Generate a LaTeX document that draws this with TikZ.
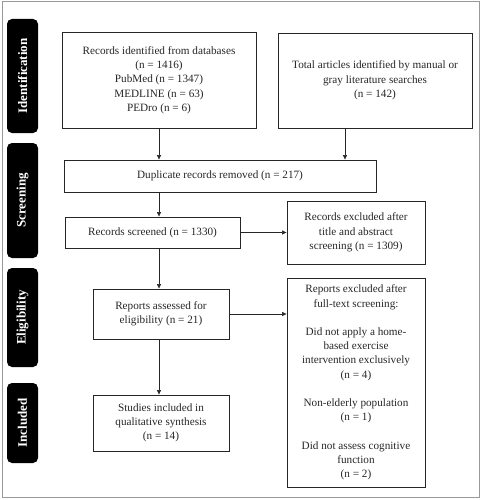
\documentclass[tikz,border=0pt]{standalone}
\usepackage{fontspec}
\setmainfont{Liberation Serif}
\usetikzlibrary{arrows.meta,calc}
\begin{document}
\begin{tikzpicture}[x=1pt,y=-1pt,
  box/.style={draw=black!85,line width=0.9pt,align=center,inner sep=2pt,
    font=\fontsize{11.2}{14.3}\selectfont,text=black!85},
  phase/.style={fill=black,rounded corners=5pt,minimum width=31pt,text=white,
    font=\fontsize{13}{14}\selectfont\bfseries,rotate=90,inner sep=0pt},
  arr/.style={draw=black!85,line width=0.6pt,-{Triangle[length=4.5pt,width=4pt]}}]
\useasboundingbox (0,0) rectangle (483,500);
\draw[black!40,line width=1pt] (2,2) rectangle (479.5,497.5);
% phase labels
\node[phase,minimum width=114pt,minimum height=31pt] (pid) at (22.5,76) {Identification};
\node[phase,minimum width=115pt,minimum height=31pt] (psc) at (22.5,200.5) {Screening};
\node[phase,minimum width=99pt,minimum height=31pt] (pel) at (22.5,317.5) {Eligibility};
\node[phase,minimum width=80pt,minimum height=31pt] (pin) at (22.5,423) {Included};
% boxes
\node[box,minimum width=194pt,minimum height=96pt] (A) at (159,80) {Records identified from databases\\(n = 1416)\\PubMed (n = 1347)\\MEDLINE (n = 63)\\PEDro (n = 6)};
\node[box,minimum width=194pt,minimum height=95pt] (B) at (375,80.5) {Total articles identified by manual or\\gray literature searches\\(n = 142)};
\node[box,minimum width=312pt,minimum height=32pt] (dup) at (220,176) {Duplicate records removed (n = 217)};
\node[box,minimum width=175pt,minimum height=31pt] (scr) at (152.5,232.5) {Records screened (n = 1330)};
\node[box,minimum width=138pt,minimum height=63pt] (ex1) at (356,232.5) {Records excluded after\\title and abstract\\screening (n = 1309)};
\node[box,minimum width=136pt,minimum height=50pt] (ass) at (161,314) {Reports assessed for\\eligibility (n = 21)};
\node[box,minimum width=138pt,minimum height=209pt] (ex2) at (356,382.5) {Reports excluded after\\full-text screening:\\[14pt]Did not apply a home-\\based exercise\\intervention exclusively\\(n = 4)\\[14pt]Non-elderly population\\(n = 1)\\[14pt]Did not assess cognitive\\function\\(n = 2)};
\node[box,minimum width=136pt,minimum height=56pt] (inc) at (161,423) {Studies included in\\qualitative synthesis\\(n = 14)};
% arrows
\draw[arr] (A.south) -- (A.south |- dup.north);
\draw[arr] ([xshift=-30pt]B.south) -- ([xshift=-30pt]B.south |- dup.north);
\draw[arr] (dup.south -| A.south) -- (scr.north -| A.south);
\draw[arr] (scr.east) -- (ex1.west |- scr.east);
\draw[arr] (scr.south -| A.south) -- (ass.north -| A.south);
\draw[arr] (ass.east) -- (ex2.west |- ass.east);
\draw[arr] (ass.south -| A.south) -- (inc.north -| A.south);
\end{tikzpicture}
\end{document}
